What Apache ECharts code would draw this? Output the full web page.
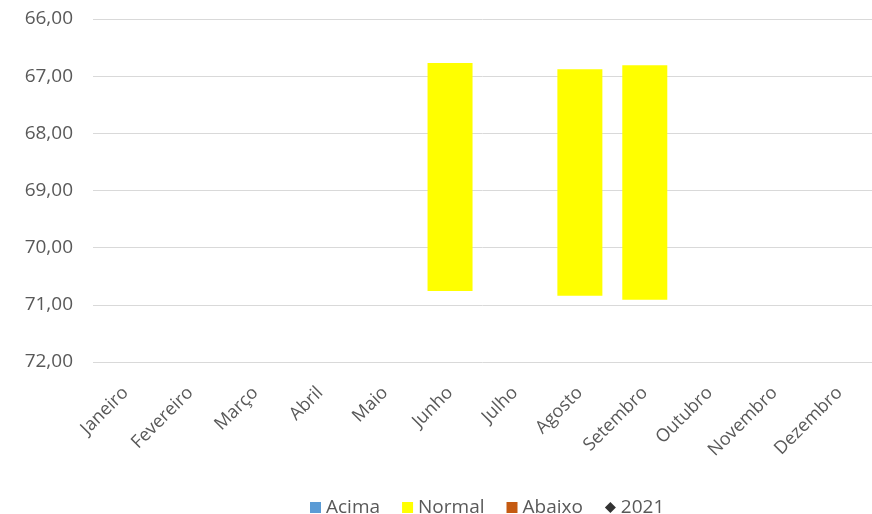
<!DOCTYPE html>
<html>
<head>
<meta charset="utf-8">
<script src="https://cdn.jsdelivr.net/npm/echarts@6/dist/echarts.min.js"></script>
<style>
html,body{margin:0;padding:0;background:#fff;}
#chart{width:872px;height:514px;}
</style>
</head>
<body>
<div id="chart"></div>
<script>
const categories = ['Janeiro','Fevereiro','Março','Abril','Maio','Junho','Julho','Agosto','Setembro','Outubro','Novembro','Dezembro'];
// Normal range: top (lower value) and bottom (higher value) of each floating bar
const normalFrom = [null,null,null,null,null,66.77,null,66.88,66.81,null,null,null];
const normalTo   = [null,null,null,null,null,70.76,null,70.84,70.91,null,null,null];
const acima  = [null,null,null,null,null,null,null,null,null,null,null,null];
const abaixo = [null,null,null,null,null,null,null,null,null,null,null,null];
const y2021  = [null,null,null,null,null,null,null,null,null,null,null,null];
const yTicks = {min:66, max:72, interval:1};

const normalSpan = normalFrom.map((v,i)=> v==null||normalTo[i]==null ? null : +(normalTo[i]-v).toFixed(2));

const FONT = 'Open Sans';
const TXT = '#595959';
const chart = echarts.init(document.getElementById('chart'));
chart.setOption({
  animation:false,
  textStyle:{fontFamily:FONT},
  grid:{left:93, top:19, width:793, height:343, containLabel:false},
  legend:{
    left:305, top:493, itemWidth:11, itemHeight:11, itemGap:22,
    textStyle:{fontFamily:FONT, fontSize:19, color:TXT},
    data:[
      {name:'Acima', icon:'rect'},
      {name:'Normal', icon:'rect'},
      {name:'Abaixo', icon:'rect'},
      {name:'2021', icon:'diamond'}
    ]
  },
  xAxis:{
    type:'category', data:categories,
    axisLine:{show:false}, axisTick:{show:false},
    axisLabel:{rotate:45, fontFamily:FONT, fontSize:18, color:TXT, margin:28, interval:0}
  },
  yAxis:{
    type:'value', inverse:true, min:yTicks.min, max:yTicks.max, interval:yTicks.interval,
    axisLine:{show:false}, axisTick:{show:false},
    splitLine:{lineStyle:{color:'#D9D9D9', width:1}},
    axisLabel:{fontFamily:FONT, fontSize:19, color:TXT, margin:20,
      formatter:v=>v.toFixed(2).replace('.',',')}
  },
  series:[
    {name:'base', type:'bar', stack:'s', data:normalFrom, barWidth:45,
      itemStyle:{color:'transparent'}, silent:true},
    {name:'Acima', type:'bar', stack:'s', data:acima, barWidth:45, itemStyle:{color:'#5B9BD5'}},
    {name:'Normal', type:'bar', stack:'s', data:normalSpan, barWidth:45, itemStyle:{color:'#FFFF00'}},
    {name:'Abaixo', type:'bar', stack:'s', data:abaixo, barWidth:45, itemStyle:{color:'#C55A11'}},
    {name:'2021', type:'scatter', data:y2021, symbol:'diamond', symbolSize:8, itemStyle:{color:'#000'}}
  ]
});
</script>
</body>
</html>
